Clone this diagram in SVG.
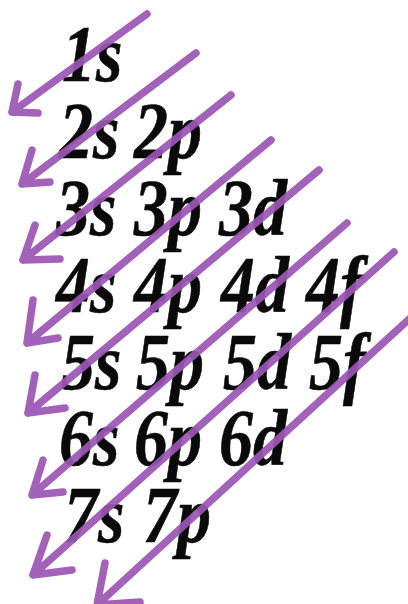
<svg xmlns="http://www.w3.org/2000/svg" width="408" height="604" viewBox="0 0 408 604">
<style>
.t{font-family:"Liberation Serif","Times New Roman",serif;font-weight:bold;font-style:italic;font-size:68px;fill:#0a0a0a;stroke:#0a0a0a;stroke-width:0.5}
.a{fill:none;stroke:#9c56b5;stroke-width:7.5;stroke-linecap:round;stroke-linejoin:round;opacity:0.93}
</style>
<rect width="408" height="604" fill="#ffffff"/>
<g transform="scale(1,1.17)">
<g id="row1"><text class="t" x="62" y="69.2">1s</text></g>
<g id="row2"><text class="t" x="59" y="135">2s</text><text class="t" x="134" y="135">2p</text></g>
<g id="row3"><text class="t" x="56" y="200.9">3s</text><text class="t" x="134" y="200.9">3p</text><text class="t" x="219" y="200.9">3d</text></g>
<g id="row4"><text class="t" x="56" y="266.7">4s</text><text class="t" x="134" y="266.7">4p</text><text class="t" x="221" y="266.7">4d</text><text class="t" x="306" y="266.7">4f</text></g>
<g id="row5"><text class="t" x="61" y="332.5">5s</text><text class="t" x="136" y="332.5">5p</text><text class="t" x="223" y="332.5">5d</text><text class="t" x="309" y="332.5">5f</text></g>
<g id="row6"><text class="t" x="59" y="397.4">6s</text><text class="t" x="134" y="397.4">6p</text><text class="t" x="219" y="397.4">6d</text></g>
<g id="row7"><text class="t" x="64" y="463.2">7s</text><text class="t" x="143" y="463.2">7p</text></g>
</g>
<g id="arrows">
<path class="a" d="M147,14 L12,112 M18,84 L12,112 L38,113"/>
<path class="a" d="M196,53 L22,184 M32,150 L22,184 L50,182"/>
<path class="a" d="M231,95 L23,260 M35,225 L23,260 L60,259"/>
<path class="a" d="M271,140 L27,343 M33,300 L27,343 L58,338"/>
<path class="a" d="M319,170 L28,413 M35,375 L28,413 L65,408"/>
<path class="a" d="M347,223 L32,495 M43,460 L32,495 L63,492"/>
<path class="a" d="M394,252 L33,575 M47,535 L33,575 L72,570"/>
<path class="a" d="M430,300 L97,605 M105,563 L97,605 L140,602"/>
</g>
</svg>
